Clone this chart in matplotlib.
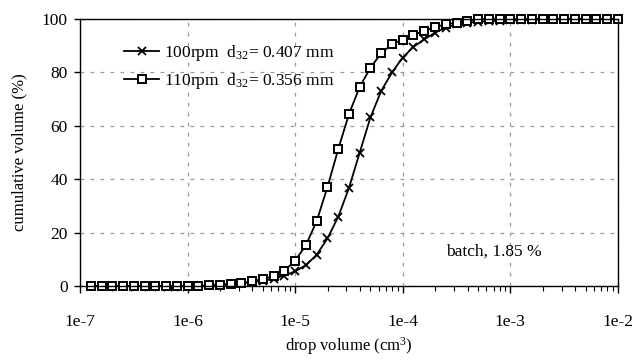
# -*- coding: utf-8 -*-
import numpy as np
import matplotlib
matplotlib.use("Agg")
import matplotlib.pyplot as plt
from matplotlib.ticker import FixedLocator, LogLocator, NullFormatter

plt.rcParams['font.family'] = ['Liberation Serif', 'DejaVu Serif']
plt.rcParams['mathtext.fontset'] = 'custom'
plt.rcParams['mathtext.rm'] = 'Liberation Serif'
plt.rcParams['mathtext.it'] = 'Liberation Serif:italic'

# log10 of drop volume (cm3), 10 points per decade
log_vol = [-6.9, -6.8, -6.7, -6.6, -6.5, -6.4, -6.3, -6.2, -6.1, -6.0,
           -5.9, -5.8, -5.7, -5.6, -5.5, -5.4, -5.3, -5.2, -5.1, -5.0,
           -4.9, -4.8, -4.7, -4.6, -4.5, -4.4, -4.3, -4.2, -4.1, -4.0,
           -3.9, -3.8, -3.7, -3.6, -3.5, -3.4, -3.3, -3.2, -3.1, -3.0,
           -2.9, -2.8, -2.7, -2.6, -2.5, -2.4, -2.3, -2.2, -2.1, -2.0]

# cumulative volume (%)
cum_100rpm = [0, 0, 0, 0, 0, 0, 0, 0, 0, 0,
              0, 0.2, 0.4, 0.7, 1.0, 1.4, 2.0, 2.7, 3.9, 5.5,
              7.8, 11.7, 17.8, 25.9, 36.7, 50.0, 63.2, 73.1, 80.0, 85.6,
              89.6, 92.4, 94.9, 96.8, 98.0, 98.6, 99.0, 99.2, 99.4, 99.5,
              99.6, 99.7, 100, 100, 100, 100, 100, 100, 100, 100]
cum_110rpm = [0, 0, 0, 0, 0, 0, 0, 0, 0, 0,
              0, 0.2, 0.4, 0.8, 1.1, 1.7, 2.7, 3.7, 5.7, 9.5,
              15.3, 24.3, 37.0, 51.2, 64.4, 74.6, 81.8, 87.2, 90.6, 92.3,
              94.0, 95.6, 97.0, 98.0, 98.7, 99.3, 100, 100, 100, 100,
              100, 100, 100, 100, 100, 100, 100, 100, 100, 100]

labels = ["100rpm  d$_{32}$= 0.407 mm", "110rpm  d$_{32}$= 0.356 mm"]
x_ticks = [1e-7, 1e-6, 1e-5, 1e-4, 1e-3, 1e-2]
x_tick_labels = ["1e-7", "1e-6", "1e-5", "1e-4", "1e-3", "1e-2"]
y_ticks = [0, 20, 40, 60, 80, 100]

vol = 10.0 ** np.array(log_vol)

fig = plt.figure(figsize=(6.37, 3.6), dpi=100)
ax = fig.add_axes([0.1256, 0.2056, 0.8444, 0.7414])

ax.plot(vol, cum_100rpm, color='black', lw=1.3, marker='x', ms=5.5,
        mew=1.3, label=labels[0], clip_on=False)
ax.plot(vol, cum_110rpm, color='black', lw=1.3, marker='s', ms=5.5,
        mew=1.4, mfc='white', label=labels[1], clip_on=False)

ax.set_xscale('log')
ax.set_xlim(1e-7, 1e-2)
ax.set_ylim(0, 100)
ax.xaxis.set_major_locator(FixedLocator(x_ticks))
ax.set_xticklabels(x_tick_labels)
ax.xaxis.set_minor_locator(LogLocator(base=10, subs=np.arange(2, 10), numticks=50))
ax.xaxis.set_minor_formatter(NullFormatter())
ax.set_yticks(y_ticks)

ax.tick_params(axis='x', which='major', direction='out', length=5, width=1,
               labelsize=12.5, pad=15)
ax.tick_params(axis='x', which='minor', direction='out', length=3.5, width=0.8)
ax.tick_params(axis='y', which='major', direction='out', length=4, width=1,
               labelsize=12.5, pad=5)

ax.grid(True, which='major', color='#999999', linestyle=(0, (3, 5)), lw=0.9)
for s in ax.spines.values():
    s.set_linewidth(1.0)
    s.set_color('black')

ax.set_xlabel("drop volume (cm$^3$)", fontsize=12, labelpad=4)
ax.set_ylabel("cumulative volume (%)", fontsize=12, labelpad=10)

ax.text(7e-4, 12.7, "batch, 1.85 %", fontsize=12.5, ha='center', va='center')

ax.legend(loc='upper left', bbox_to_anchor=(0.06, 0.955), frameon=False,
          fontsize=12.5, handlelength=2.0, handletextpad=0.3,
          labelspacing=0.45, borderpad=0.2)

fig.savefig("out.png", dpi=100)
